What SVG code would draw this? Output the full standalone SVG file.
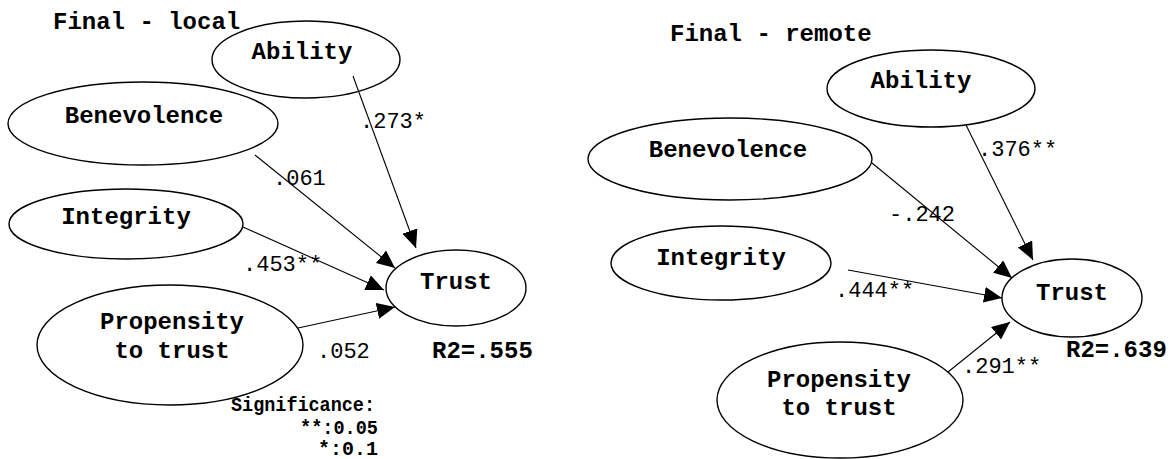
<svg xmlns="http://www.w3.org/2000/svg" width="1170" height="459" viewBox="0 0 1170 459">
<defs>
<marker id="ah" markerUnits="userSpaceOnUse" markerWidth="20" markerHeight="18" refX="18" refY="8" orient="auto">
<path d="M0,0 L18,8 L0,16 z" fill="#000"/>
</marker>
<style>
.node ellipse{fill:none;stroke:#000;stroke-width:1.4}
.lbl{font-family:"Liberation Mono","DejaVu Sans Mono",monospace;font-weight:bold;font-size:24px;fill:#000}
.num{font-family:"Liberation Mono","DejaVu Sans Mono",monospace;font-size:22px;fill:#000}
.sig{font-family:"Liberation Mono","DejaVu Sans Mono",monospace;font-weight:bold;font-size:20px;fill:#000}
.conn line{stroke:#000;stroke-width:1.1;marker-end:url(#ah)}
</style>
</defs>
<rect width="1170" height="459" fill="#fff"/>

<!-- Left: Final - local -->
<text class="lbl" x="53" y="29">Final - local</text>
<g id="L-ability" class="node"><ellipse cx="306" cy="59.5" rx="94" ry="38.5"/><text class="lbl" x="302" y="59" text-anchor="middle">Ability</text></g>
<g id="L-benevolence" class="node"><ellipse cx="143" cy="123.5" rx="135" ry="41.5"/><text class="lbl" x="144" y="123" text-anchor="middle">Benevolence</text></g>
<g id="L-integrity" class="node"><ellipse cx="126" cy="224" rx="117" ry="35"/><text class="lbl" x="126" y="224" text-anchor="middle">Integrity</text></g>
<g id="L-propensity" class="node"><ellipse cx="170" cy="345" rx="133" ry="60"/><text class="lbl" x="172" y="329" text-anchor="middle">Propensity</text><text class="lbl" x="172" y="358" text-anchor="middle">to trust</text></g>
<g id="L-trust" class="node"><ellipse cx="456" cy="288" rx="70" ry="38"/><text class="lbl" x="456" y="289" text-anchor="middle">Trust</text></g>

<g id="L-connectors" class="conn">
<line x1="353" y1="76" x2="416" y2="248"/>
<line x1="255" y1="155" x2="395" y2="268"/>
<line x1="243" y1="227" x2="384" y2="290"/>
<line x1="298" y1="328" x2="395" y2="307"/>
</g>
<text class="num" x="360" y="128">.273*</text>
<text class="num" x="273" y="185">.061</text>
<text class="num" x="243" y="271">.453**</text>
<text class="num" x="317" y="358">.052</text>
<text class="lbl" x="432" y="358">R2=.555</text>
<text class="sig" x="231" y="411" textLength="144" lengthAdjust="spacingAndGlyphs">Significance:</text>
<text class="sig" x="378" y="434" text-anchor="end" textLength="78" lengthAdjust="spacingAndGlyphs">**:0.05</text>
<text class="sig" x="378" y="455" text-anchor="end">*:0.1</text>

<!-- Right: Final - remote -->
<text class="lbl" x="670" y="41">Final - remote</text>
<g id="R-ability" class="node"><ellipse cx="931" cy="88.5" rx="104" ry="38.5"/><text class="lbl" x="921" y="88" text-anchor="middle">Ability</text></g>
<g id="R-benevolence" class="node"><ellipse cx="730" cy="159" rx="142" ry="41"/><text class="lbl" x="728" y="157" text-anchor="middle">Benevolence</text></g>
<g id="R-integrity" class="node"><ellipse cx="721" cy="263" rx="110" ry="37"/><text class="lbl" x="721" y="265" text-anchor="middle">Integrity</text></g>
<g id="R-propensity" class="node"><ellipse cx="840" cy="400" rx="123" ry="58"/><text class="lbl" x="839" y="387" text-anchor="middle">Propensity</text><text class="lbl" x="839" y="415" text-anchor="middle">to trust</text></g>
<g id="R-trust" class="node"><ellipse cx="1072" cy="298" rx="70" ry="39"/><text class="lbl" x="1072" y="300" text-anchor="middle">Trust</text></g>

<g id="R-connectors" class="conn">
<line x1="966" y1="125" x2="1033" y2="260"/>
<line x1="872" y1="163" x2="1012" y2="278"/>
<line x1="848" y1="270" x2="1002" y2="298"/>
<line x1="948" y1="372" x2="1010" y2="322"/>
</g>
<text class="num" x="978" y="156">.376**</text>
<text class="num" x="889" y="221">-.242</text>
<text class="num" x="835" y="297">.444**</text>
<text class="num" x="962" y="373">.291**</text>
<text class="lbl" x="1066" y="357">R2=.639</text>
</svg>
